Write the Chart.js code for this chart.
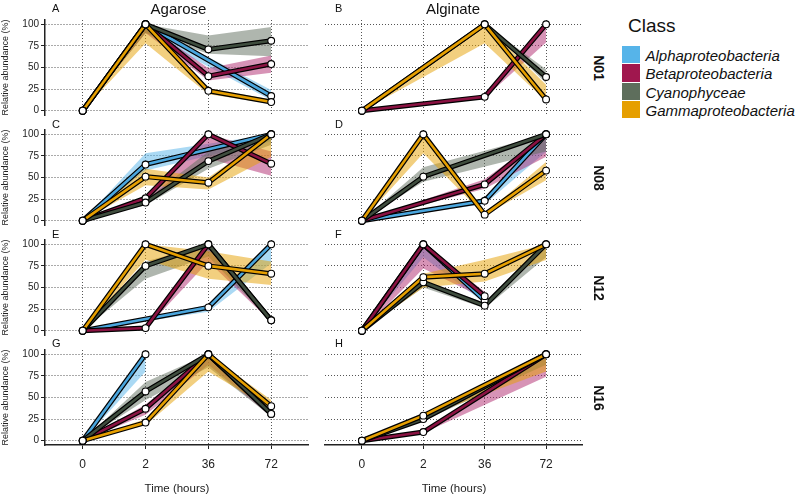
<!DOCTYPE html>
<html><head><meta charset="utf-8">
<script src="https://cdn.jsdelivr.net/npm/chart.js@4.4.1/dist/chart.umd.min.js"></script>
<style>
html,body{margin:0;padding:0;background:#fff;}
body{width:800px;height:496px;position:relative;overflow:hidden;font-family:"Liberation Sans",Arial,sans-serif;color:#111;}
canvas{position:absolute;}
.lbl{position:absolute;white-space:nowrap;line-height:1;}
</style></head><body>
<script>
// ---------- data ----------
const timeLabels = ['0', '2', '36', '72'];
const yTicks = [0, 25, 50, 75, 100];
const classNames = ['Alphaproteobacteria', 'Betaproteobacteria', 'Cyanophyceae', 'Gammaproteobacteria'];
const substrates = ['Agarose', 'Alginate'];
const sites = ['N01', 'N08', 'N12', 'N16'];
const panelTags = ['A', 'B', 'C', 'D', 'E', 'F', 'G', 'H'];

// each panel: [Alpha, Beta, Cyano, Gamma], values at 0, 2, 36, 72 h
const agaroseN01   = [[0,100,null,17],[0,100,40,54],[0,100,71,81],[0,100,23,10]];
const agaroseN01Lo = [[0,90,null,12],[0,90,35,44],[0,90,66,63],[0,78,19,8]];
const agaroseN01Hi = [[0,100,null,24],[0,100,49,64],[0,100,87,97],[0,100,26,13]];

const alginateN01   = [[null,null,null,null],[0,null,16,100],[0,null,100,39],[0,null,100,13]];
const alginateN01Lo = [[null,null,null,null],[0,null,15,79],[0,null,100,32],[0,null,78,11]];
const alginateN01Hi = [[null,null,null,null],[0,null,17,100],[0,null,100,48],[0,null,100,30]];

const agaroseN08   = [[0,65,null,100],[0,26,100,66],[0,21,69,100],[0,51,44,100]];
const agaroseN08Lo = [[0,58,null,92],[0,22,72,52],[0,18,60,88],[0,41,36,74]];
const agaroseN08Hi = [[0,78,null,100],[0,28,100,80],[0,24,80,100],[0,60,50,100]];

const alginateN08   = [[0,null,23,100],[0,null,42,100],[0,51,null,100],[0,100,7,58]];
const alginateN08Lo = [[0,null,19,80],[0,null,37,74],[0,45,null,80],[0,78,6,47]];
const alginateN08Hi = [[0,null,26,100],[0,null,48,100],[0,62,null,100],[0,100,8,68]];

const agaroseN12   = [[0,null,27,100],[0,3,100,12],[0,75,100,12],[0,100,75,66]];
const agaroseN12Lo = [[0,null,22,78],[0,2,80,10],[0,60,86,10],[0,82,60,53]];
const agaroseN12Hi = [[0,null,30,100],[0,4,100,14],[0,80,100,15],[0,100,92,80]];

const alginateN12   = [[0,100,35,null],[0,100,40,null],[0,56,29,100],[0,62,66,100]];
const alginateN12Lo = [[0,85,32,null],[0,72,37,null],[0,50,26,85],[0,50,57,82]];
const alginateN12Hi = [[0,100,38,null],[0,100,45,null],[0,58,32,100],[0,66,82,100]];

const agaroseN16   = [[0,100,null,null],[0,37,100,31],[0,57,100,31],[0,21,100,40]];
const agaroseN16Lo = [[0,80,null,null],[0,30,88,28],[0,47,85,28],[0,18,80,36]];
const agaroseN16Hi = [[0,100,null,null],[0,42,100,35],[0,68,100,36],[0,25,100,47]];

const alginateN16   = [[null,null,null,null],[0,10,null,100],[0,25,null,100],[0,29,null,100]];
const alginateN16Lo = [[null,null,null,null],[0,9,null,74],[0,23,null,88],[0,27,null,80]];
const alginateN16Hi = [[null,null,null,null],[0,12,null,100],[0,27,null,100],[0,31,null,100]];

// ---------- styles ----------
const keyColors    = ['#56B4E9', '#A0174E', '#5E6E5C', '#E69F00'];
const lineColors   = ['#4AA6DE', '#8A1242', '#3F4D3E', '#E69F00'];
const ribbonColors = ['rgba(86,180,233,0.5)', 'rgba(176,40,110,0.5)', 'rgba(95,110,93,0.5)', 'rgba(230,159,0,0.5)'];
const FONT = '"Liberation Sans", Arial, sans-serif';
Chart.defaults.font.family = FONT;

const panels = [
  {v: agaroseN01, lo: agaroseN01Lo, hi: agaroseN01Hi},
  {v: alginateN01, lo: alginateN01Lo, hi: alginateN01Hi},
  {v: agaroseN08, lo: agaroseN08Lo, hi: agaroseN08Hi},
  {v: alginateN08, lo: alginateN08Lo, hi: alginateN08Hi},
  {v: agaroseN12, lo: agaroseN12Lo, hi: agaroseN12Hi},
  {v: alginateN12, lo: alginateN12Lo, hi: alginateN12Hi},
  {v: agaroseN16, lo: agaroseN16Lo, hi: agaroseN16Hi},
  {v: alginateN16, lo: alginateN16Lo, hi: alginateN16Hi}
];

const rowTops = [20, 130, 240, 350];
const PANEL_H = 95;
const colGeom = [{canvasLeft: 0, width: 314, axisW: 45}, {canvasLeft: 320, width: 268, axisW: 0}];

function pts(arr) {
  const out = [];
  arr.forEach((v, i) => { if (v !== null && v !== undefined) out.push({x: i, y: v}); });
  return out;
}

function addLabel(text, x, y, css, center) {
  const d = document.createElement('div');
  d.className = 'lbl';
  d.textContent = text;
  d.style.left = x + 'px';
  d.style.top = y + 'px';
  Object.assign(d.style, css);
  d.style.transform = (center ? 'translate(-50%,-50%)' : 'translate(0,-50%)') + (css.rot ? ' rotate(' + css.rot + ')' : '');
  document.body.appendChild(d);
}

panels.forEach((p, idx) => {
  const row = Math.floor(idx / 2), col = idx % 2;
  const isBottom = row === 3;
  const g = colGeom[col];
  const padTop = 10;
  const xAxisH = isBottom ? 51 : 0;
  const padBottom = isBottom ? 0 : 10;
  const canvasH = padTop + PANEL_H + xAxisH + padBottom;
  const cv = document.createElement('canvas');
  cv.width = g.width; cv.height = canvasH;
  cv.style.left = g.canvasLeft + 'px';
  cv.style.top = (rowTops[row] - padTop) + 'px';
  cv.style.width = g.width + 'px'; cv.style.height = canvasH + 'px';
  document.body.appendChild(cv);

  const seq = [];
  // ribbons
  for (let s = 0; s < 4; s++) {
    const lo = pts(p.lo[s]), hi = pts(p.hi[s]);
    if (lo.length < 2) continue;
    seq.push({type: 'line', data: lo, borderWidth: 0, pointRadius: 0, fill: false, tension: 0});
    seq.push({type: 'line', data: hi, borderWidth: 0, pointRadius: 0, fill: '-1', backgroundColor: ribbonColors[s], tension: 0});
  }
  // lines (black outline then colour)
  for (let s = 0; s < 4; s++) {
    const d = pts(p.v[s]);
    if (d.length < 2) continue;
    seq.push({type: 'line', data: d, borderColor: '#000', borderWidth: 5, pointRadius: 0, fill: false, tension: 0, borderJoinStyle: 'miter', borderCapStyle: 'butt'});
    seq.push({type: 'line', data: d, borderColor: lineColors[s], borderWidth: 2.6, pointRadius: 0, fill: false, tension: 0, borderJoinStyle: 'miter', borderCapStyle: 'butt'});
  }
  // points
  for (let s = 0; s < 4; s++) {
    const d = pts(p.v[s]);
    if (!d.length) continue;
    seq.push({type: 'line', data: d, showLine: false, pointRadius: 3.4, pointBackgroundColor: '#fff', pointBorderColor: '#000', pointBorderWidth: 1.1, fill: false});
  }
  seq.forEach((ds, i) => { ds.order = seq.length - i; });

  new Chart(cv, {
    type: 'line',
    data: {datasets: seq},
    options: {
      responsive: false, animation: false, devicePixelRatio: 1,
      layout: {padding: {top: padTop, bottom: padBottom, left: 0, right: 2}},
      plugins: {legend: {display: false}, tooltip: {enabled: false}},
      scales: {
        x: {
          type: 'linear', min: -0.6, max: 3.6,
          afterBuildTicks: s => { s.ticks = timeLabels.map((_, i) => ({value: i})); },
          ticks: {display: isBottom, callback: v => timeLabels[v], font: {size: 12}, color: '#222', padding: 8, maxRotation: 0, autoSkip: false},
          grid: {color: '#555', lineWidth: 1, drawTicks: isBottom, tickLength: 4, tickColor: '#222', tickWidth: 1, tickBorderDash: [], borderDash: [1, 2]},
          border: {display: isBottom, color: '#222', width: 1.5, dash: [1, 2]},
          title: {display: isBottom, text: 'Time (hours)', font: {size: 11.5}, color: '#222', padding: {top: 0, bottom: 0}},
          afterFit: s => { s.height = xAxisH; }
        },
        y: {
          type: 'linear', min: -5, max: 105,
          afterBuildTicks: s => { s.ticks = yTicks.map(v => ({value: v})); },
          ticks: {display: col === 0, font: {size: 10}, color: '#222', padding: 2},
          grid: {color: '#555', lineWidth: 1, drawTicks: col === 0, tickLength: 4, tickColor: '#222', tickWidth: 1, tickBorderDash: [], borderDash: [1, 2]},
          border: {display: col === 0, color: '#222', width: 1.5, dash: [1, 2]},
          title: {display: col === 0, text: 'Relative abundance (%)', font: {size: 9}, color: '#222', padding: {top: 0, bottom: 0}},
          afterFit: s => { s.width = g.axisW; }
        }
      }
    }
  });
});

// panel tags, column titles, row strips
const tagY = [7.5, 124, 234, 343];
panelTags.forEach((t, i) => {
  const row = Math.floor(i / 2), col = i % 2;
  addLabel(t, col === 0 ? 52 : 335, tagY[row], {fontSize: '11px', color: '#111'}, false);
});
addLabel(substrates[0], 178.5, 7.5, {fontSize: '15px', color: '#111'}, true);
addLabel(substrates[1], 453, 7.5, {fontSize: '15px', color: '#111'}, true);
sites.forEach((s, r) => {
  addLabel(s, 599, rowTops[r] + PANEL_H / 2, {fontSize: '14px', fontWeight: 'bold', color: '#111', rot: '90deg'}, true);
});

// legend
addLabel('Class', 628, 25, {fontSize: '19px', color: '#111'}, false);
classNames.forEach((c, i) => {
  const k = document.createElement('div');
  k.style.position = 'absolute';
  k.style.left = '622px';
  k.style.top = (46 + i * 18.3) + 'px';
  k.style.width = '18px';
  k.style.height = '17.4px';
  k.style.background = keyColors[i];
  document.body.appendChild(k);
  addLabel(c, 645.5, 55 + i * 18.3, {fontSize: '15px', fontStyle: 'italic', color: '#111'}, false);
});
</script>
</body></html>
